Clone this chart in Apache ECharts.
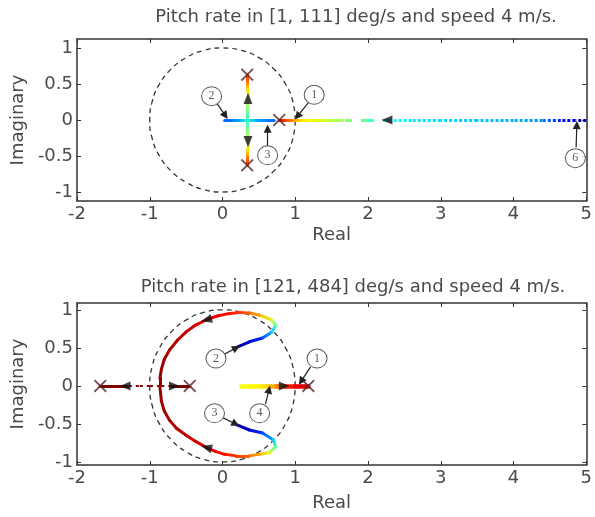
<!DOCTYPE html>
<html><head><meta charset="utf-8">
<script src="https://cdn.jsdelivr.net/npm/echarts@6/dist/echarts.min.js"></script>
<style>html,body{margin:0;padding:0;background:#fff}#c{width:595px;height:517px}</style>
</head><body><div id="c"></div>
<script>
// ---------- titles / ticks ----------
const titles = ['Pitch rate in [1, 111] deg/s and speed 4 m/s.', 'Pitch rate in [121, 484] deg/s and speed 4 m/s.'];
const yTicks = [-1, -0.5, 0, 0.5, 1];

// unit circle reference points (15 deg steps)
const circleX = [1,0.966,0.866,0.707,0.5,0.259,0,-0.259,-0.5,-0.707,-0.866,-0.966,-1,-0.966,-0.866,-0.707,-0.5,-0.259,0,0.259,0.5,0.707,0.866,0.966,1];
const circleY = [0,0.259,0.5,0.707,0.866,0.966,1,0.966,0.866,0.707,0.5,0.259,0,-0.259,-0.5,-0.707,-0.866,-0.966,-1,-0.966,-0.866,-0.707,-0.5,-0.259,0];

// ---------- TOP: pitch rate 1..111 ----------
// right real branch (x, normalised pitch parameter t), y = 0
const topRightDottedX = [5.0, 4.85, 4.65, 4.4, 4.0, 3.5, 3.0, 2.6, 2.3];
const topRightDottedT = [0.04, 0.08, 0.14, 0.26, 0.3, 0.32, 0.34, 0.36, 0.38];
const topRightSparseX = [2.3, 2.0, 1.65];
const topRightSparseT = [0.38, 0.46, 0.53];
const topRightSolidX = [1.65, 1.4, 1.2, 1.05, 0.95, 0.85, 0.78];
const topRightSolidT = [0.53, 0.58, 0.62, 0.66, 0.74, 0.82, 0.88];
// inner real branches
const topInnerLeftX = [0.03, 0.15, 0.25, 0.34];
const topInnerLeftT = [0.22, 0.25, 0.3, 0.42];
const topInnerRightX = [0.71, 0.6, 0.45, 0.34];
const topInnerRightT = [0.22, 0.25, 0.3, 0.42];
// complex pair
const topUpperX = [0.34, 0.34, 0.35, 0.35, 0.34, 0.34];
const topUpperY = [0, 0.12, 0.25, 0.38, 0.5, 0.62];
const topUpperT = [0.42, 0.48, 0.55, 0.62, 0.72, 0.85];
const topLowerX = [0.34, 0.34, 0.35, 0.35, 0.34, 0.34];
const topLowerY = [0, -0.12, -0.25, -0.38, -0.5, -0.62];
const topLowerT = [0.42, 0.48, 0.55, 0.62, 0.72, 0.85];
// poles
const topPoleX = [0.34, 0.34, 0.78];
const topPoleY = [0.63, -0.63, 0];
// direction arrows (angle of motion, deg)
const topArrowX = [0.35, 0.35, 2.26];
const topArrowY = [0.3, -0.3, 0];
const topArrowDir = [90, 270, 180];
// numbered annotations
const topLabelX = [1.26, -0.15, 0.62, 4.85];
const topLabelY = [0.35, 0.33, -0.49, -0.53];
const topLabelText = ['1', '2', '3', '6'];
const topPointerFromX = [1.18, -0.07, 0.62, 4.86];
const topPointerFromY = [0.24, 0.22, -0.37, -0.38];
const topPointerToX = [1.03, 0.04, 0.62, 4.87];
const topPointerToY = [0.05, 0.06, -0.12, -0.07];

// ---------- BOTTOM: pitch rate 121..484 ----------
const botUpperX = [0.2, 0.37, 0.55, 0.68, 0.73, 0.67, 0.51, 0.37, 0.23, 0.08, -0.07, -0.22, -0.37, -0.5, -0.62, -0.73, -0.8, -0.84, -0.86, -0.86];
const botUpperY = [0.51, 0.58, 0.63, 0.71, 0.8, 0.87, 0.93, 0.96, 0.965, 0.95, 0.92, 0.87, 0.8, 0.71, 0.6, 0.47, 0.35, 0.22, 0.1, 0.0];
const botUpperT = [0.03, 0.08, 0.18, 0.32, 0.45, 0.6, 0.7, 0.77, 0.82, 0.86, 0.88, 0.9, 0.92, 0.93, 0.95, 0.96, 0.97, 0.97, 0.98, 0.98];
const botLowerX = [0.19, 0.37, 0.55, 0.7, 0.73, 0.64, 0.51, 0.36, 0.19, 0.03, -0.1, -0.22, -0.37, -0.5, -0.63, -0.73, -0.8, -0.84, -0.86];
const botLowerY = [-0.51, -0.58, -0.62, -0.71, -0.8, -0.88, -0.9, -0.92, -0.92, -0.9, -0.86, -0.81, -0.73, -0.65, -0.56, -0.45, -0.33, -0.2, -0.02];
const botLowerT = [0.03, 0.08, 0.18, 0.32, 0.45, 0.6, 0.7, 0.77, 0.82, 0.86, 0.88, 0.9, 0.92, 0.93, 0.95, 0.96, 0.97, 0.97, 0.98];
// real branches (y = 0)
const botRightX = [0.26, 0.4, 0.55, 0.65, 0.75, 0.87, 1.0, 1.18];
const botRightT = [0.62, 0.63, 0.64, 0.68, 0.74, 0.82, 0.88, 0.94];
const botLeftSparseX = [-0.86, -1.0, -1.15, -1.3];
const botLeftSparseT = [0.98, 0.985, 0.99, 0.99];
const botLeftSolidX = [-1.3, -1.5, -1.68];
const botLeftSolidT = [0.99, 1.0, 1.0];
const botInnerSparseX = [-0.84, -0.7];
const botInnerSparseT = [0.98, 0.99];
const botInnerSolidX = [-0.7, -0.55, -0.45];
const botInnerSolidT = [0.99, 1.0, 1.0];
// poles
const botPoleX = [-1.68, -0.45, 1.18];
const botPoleY = [0, 0, 0];
// direction arrows
const botArrowX = [-1.34, -0.66, 0.85, -0.22, -0.22];
const botArrowY = [0, 0, 0, 0.87, -0.81];
const botArrowDir = [180, 0, 0, 195, 165];
// numbered annotations
const botLabelX = [1.3, -0.09, -0.11, 0.51];
const botLabelY = [0.36, 0.36, -0.36, -0.36];
const botLabelText = ['1', '2', '3', '4'];
const botPointerFromX = [1.21, 0.03, 0.01, 0.59];
const botPointerFromY = [0.25, 0.42, -0.42, -0.24];
const botPointerToX = [1.08, 0.19, 0.18, 0.64];
const botPointerToY = [0.06, 0.5, -0.5, -0.05];

// ---------- helpers ----------
function jet(t){
  const c = v => Math.max(0, Math.min(1, v));
  const r = c(1.5 - Math.abs(4*t - 3)), g = c(1.5 - Math.abs(4*t - 2)), b = c(1.5 - Math.abs(4*t - 1));
  return 'rgb(' + Math.round(r*255) + ',' + Math.round(g*255) + ',' + Math.round(b*255) + ')';
}
function segs(xs, ys, ts){
  const out = [];
  for (let i = 0; i < xs.length - 1; i++){
    const x1 = xs[i], y1 = ys ? ys[i] : 0, x2 = xs[i+1], y2 = ys ? ys[i+1] : 0;
    const dx = x2 - x1, dy = y2 - y1;
    const ax = Math.abs(dx) > 0.15*Math.abs(dy), ay = Math.abs(dy) > 0.15*Math.abs(dx);
    const gx0 = ax ? (dx > 0 ? 0 : 1) : 0, gx1 = ax ? 1 - gx0 : 0;
    const gy0 = ay ? (dy > 0 ? 1 : 0) : 0, gy1 = ay ? 1 - gy0 : 0;
    out.push({coords: [[x1, y1], [x2, y2]], lineStyle: {color: new echarts.graphic.LinearGradient(gx0, gy0, gx1, gy1,
      [{offset: 0, color: jet(ts[i])}, {offset: 1, color: jet(ts[i+1])}])}});
  }
  return out;
}
function branch(ax, data, width, type){
  return {type: 'lines', coordinateSystem: 'cartesian2d', xAxisIndex: ax, yAxisIndex: ax, polyline: false, silent: true, z: 3,
    lineStyle: {width: width, cap: type ? 'butt' : 'round', type: type || 'solid', opacity: 1}, data: data};
}
const zip = (a, b) => a.map((v, i) => [v, b[i]]);

const axisCol = '#333';
const FONT = 'DejaVu Sans';
const lblStyle = {fontSize: 18, color: '#4a4a4a', fontFamily: FONT};
function xAxes(g){
  return [{
    type: 'value', gridIndex: g, min: -2, max: 5, interval: 1, position: 'bottom',
    axisLine: {show: true, onZero: false, lineStyle: {color: axisCol, width: 1.5}},
    axisTick: {show: true, inside: true, length: 4, lineStyle: {color: axisCol}},
    axisLabel: Object.assign({margin: 4}, lblStyle), splitLine: {show: false},
    name: 'Real', nameLocation: 'middle', nameGap: g === 0 ? 25 : 29, nameTextStyle: lblStyle
  }, {
    type: 'value', gridIndex: g, min: -2, max: 5, interval: 1, position: 'top',
    axisLine: {show: true, onZero: false, lineStyle: {color: axisCol, width: 1.5}},
    axisTick: {show: true, inside: true, length: 4, lineStyle: {color: axisCol}},
    axisLabel: {show: false}, splitLine: {show: false}
  }];
}
function yAxes(g, mn, mx){
  return [{
    type: 'value', gridIndex: g, min: mn, max: mx, position: 'left',
    axisLine: {show: true, onZero: false, lineStyle: {color: axisCol, width: 1.5}},
    axisTick: {show: true, inside: true, length: 4, customValues: yTicks, lineStyle: {color: axisCol}},
    axisLabel: Object.assign({margin: 4, customValues: yTicks}, lblStyle), splitLine: {show: false},
    name: 'Imaginary', nameLocation: 'middle', nameRotate: 90, nameGap: 48, nameTextStyle: lblStyle
  }, {
    type: 'value', gridIndex: g, min: mn, max: mx, position: 'right',
    axisLine: {show: true, onZero: false, lineStyle: {color: axisCol, width: 1.5}},
    axisTick: {show: true, inside: true, length: 4, customValues: yTicks, lineStyle: {color: axisCol}},
    axisLabel: {show: false}, splitLine: {show: false}
  }];
}

const xMark = 'path://M1,0 L5,4 L9,0 L10,1 L6,5 L10,9 L9,10 L5,6 L1,10 L0,9 L4,5 L0,1 Z';

function decorations(ax, poleX, poleY, arrX, arrY, arrDir, labX, labY, labT, pfx, pfy, ptx, pty){
  return [
    {type: 'line', xAxisIndex: ax, yAxisIndex: ax, data: zip(circleX, circleY), smooth: true, showSymbol: false, silent: true, z: 1,
     lineStyle: {color: '#333', width: 1.3, type: [5, 4]}},
    {type: 'scatter', xAxisIndex: ax, yAxisIndex: ax, symbol: xMark, symbolSize: 13, z: 5, silent: true,
     itemStyle: {color: '#5a2626'}, data: zip(poleX, poleY)},
    {type: 'scatter', xAxisIndex: ax, yAxisIndex: ax, symbol: 'triangle', symbolSize: [9, 11], z: 6, silent: true,
     itemStyle: {color: '#111'}, data: arrX.map((x, i) => ({value: [x, arrY[i]], symbolRotate: arrDir[i] - 90}))},
    {type: 'lines', coordinateSystem: 'cartesian2d', xAxisIndex: ax, yAxisIndex: ax, silent: true, z: 7,
     symbol: ['none', 'triangle'], symbolSize: 8, lineStyle: {color: '#222', width: 1.2, opacity: 1},
     data: pfx.map((x, i) => ({coords: [[x, pfy[i]], [ptx[i], pty[i]]]}))},
    {type: 'scatter', xAxisIndex: ax, yAxisIndex: ax, symbol: 'circle', symbolSize: [20, 19], z: 8, silent: true,
     itemStyle: {color: '#fff', borderColor: '#333', borderWidth: 1},
     label: {show: true, position: 'inside', formatter: p => p.data[2], fontSize: 12, color: '#333', fontFamily: 'Liberation Serif'},
     data: labX.map((x, i) => [x, labY[i], labT[i]])}
  ];
}

const series = [].concat(
  // top
  [branch(0, segs(topRightDottedX, null, topRightDottedT), 3, [3, 2]),
   branch(0, segs(topRightSparseX, null, topRightSparseT), 3, [7, 9]),
   branch(0, segs(topRightSolidX, null, topRightSolidT), 3),
   branch(0, segs(topInnerLeftX, null, topInnerLeftT), 3),
   branch(0, segs(topInnerRightX, null, topInnerRightT), 3),
   branch(0, segs(topUpperX, topUpperY, topUpperT), 3),
   branch(0, segs(topLowerX, topLowerY, topLowerT), 3)],
  decorations(0, topPoleX, topPoleY, topArrowX, topArrowY, topArrowDir, topLabelX, topLabelY, topLabelText,
    topPointerFromX, topPointerFromY, topPointerToX, topPointerToY),
  // bottom
  [branch(2, segs(botUpperX, botUpperY, botUpperT), 3),
   branch(2, segs(botLowerX, botLowerY, botLowerT), 3),
   branch(2, segs(botRightX, null, botRightT), 4.5),
   branch(2, segs(botLeftSparseX, null, botLeftSparseT), 2, [3, 4]),
   branch(2, segs(botLeftSolidX, null, botLeftSolidT), 3),
   branch(2, segs(botInnerSparseX, null, botInnerSparseT), 2, [3, 4]),
   branch(2, segs(botInnerSolidX, null, botInnerSolidT), 3)],
  decorations(2, botPoleX, botPoleY, botArrowX, botArrowY, botArrowDir, botLabelX, botLabelY, botLabelText,
    botPointerFromX, botPointerFromY, botPointerToX, botPointerToY)
);

const titleStyle = {fontSize: 18, fontWeight: 'normal', color: '#4a4a4a', fontFamily: FONT, lineHeight: 22};
const chart = echarts.init(document.getElementById('c'), null, {renderer: 'canvas'});
chart.setOption({
  animation: false,
  backgroundColor: '#fff',
  title: [
    {text: titles[0], left: 356, top: 6, padding: 0, textAlign: 'center', textStyle: titleStyle},
    {text: titles[1], left: 353, top: 276, padding: 0, textAlign: 'center', textStyle: titleStyle}
  ],
  grid: [
    {left: 77, right: 6, top: 39, height: 162},
    {left: 77, right: 6, top: 303, height: 162}
  ],
  xAxis: [].concat(xAxes(0), xAxes(1)),
  yAxis: [].concat(yAxes(0, -1.125, 1.125), yAxes(1, -1.04, 1.09)),
  series: series
});
</script></body></html>
